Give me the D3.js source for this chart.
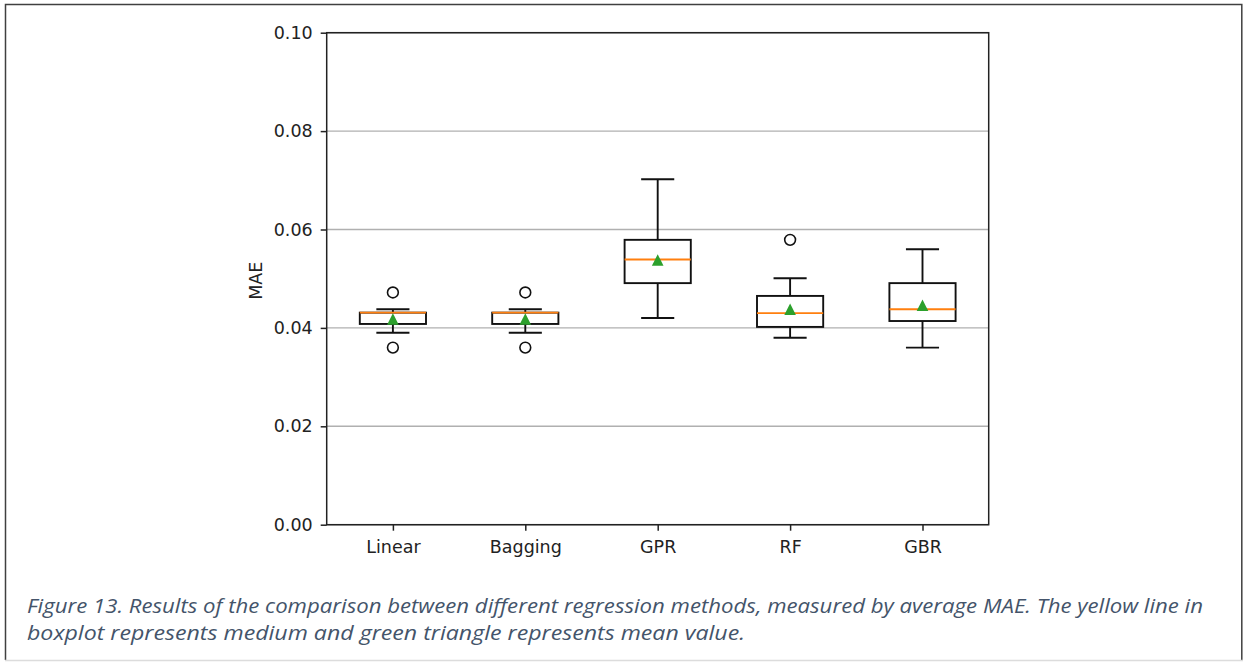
<!DOCTYPE html>
<html>
<head>
<meta charset="utf-8">
<script src="https://cdn.jsdelivr.net/npm/d3@7"></script>
<style>
  html, body { margin: 0; padding: 0; background: #fff; }
  svg { display: block; }
  .axis text { font-family: "DejaVu Sans", sans-serif; font-size: 17.5px; fill: #222; }
  .axis path, .axis line { stroke: #222; stroke-width: 1.5px; }
  .grid line { stroke: #b0b0b0; stroke-width: 1.4px; }
  .caption { font-family: "Open Sans", sans-serif; font-style: italic; font-size: 19.5px; fill: #44546a; }
</style>
</head>
<body>
<svg id="chart"></svg>
<script>
var categories = ['Linear', 'Bagging', 'GPR', 'RF', 'GBR'];
var whiskerLow = [0.0390, 0.0390, 0.0420, 0.0380, 0.0360];
var q1 = [0.0408, 0.0408, 0.0491, 0.0402, 0.0414];
var median = [0.0431, 0.0431, 0.0539, 0.0430, 0.0438];
var q3 = [0.0431, 0.0431, 0.0579, 0.0465, 0.0491];
var whiskerHigh = [0.0438, 0.0438, 0.0702, 0.0501, 0.0560];
var means = [0.0418, 0.0418, 0.0538, 0.0438, 0.0446];
var outliers = [[0.0360, 0.0472], [0.0360, 0.0472], [], [0.0579], []];
var yTicks = [0, 0.02, 0.04, 0.06, 0.08, 0.10];
var captionLines = [
  'Figure 13. Results of the comparison between different regression methods, measured by average MAE. The yellow line in',
  'boxplot represents medium and green triangle represents mean value.'
];

document.addEventListener('DOMContentLoaded', () => {
  var size = { width: 1243, height: 662 };
  var plot = { left: 326.7, right: 988.7, top: 32.7, bottom: 524.7 };

  var data = categories.map((c, i) => ({
    name: c,
    lo: whiskerLow[i],
    q1: q1[i],
    med: median[i],
    q3: q3[i],
    hi: whiskerHigh[i],
    mean: means[i],
    fliers: outliers[i]
  }));

  var x = d3.scalePoint()
    .domain(categories)
    .range([plot.left, plot.right])
    .padding(0.5);

  var y = d3.scaleLinear()
    .domain([0, 0.10])
    .range([plot.bottom, plot.top]);

  var boxW = x.step() * 0.5;
  var capW = x.step() * 0.25;

  var svg = d3.select('#chart')
    .attr('width', size.width)
    .attr('height', size.height);

  // page frame
  svg.append('path')
    .attr('d', `M5.5,660 V4.5 H1241.8 V660`)
    .attr('fill', 'none')
    .attr('stroke', '#404040')
    .attr('stroke-width', 1.5);
  svg.append('line')
    .attr('x1', 5).attr('x2', 1243)
    .attr('y1', 660.5).attr('y2', 660.5)
    .attr('stroke', '#dcdcdc')
    .attr('stroke-width', 1.5);

  // grid
  svg.append('g')
    .attr('class', 'grid')
    .selectAll('line')
    .data(yTicks)
    .enter().append('line')
      .attr('x1', plot.left).attr('x2', plot.right)
      .attr('y1', d => y(d)).attr('y2', d => y(d));

  var box = svg.selectAll('.box')
    .data(data)
    .enter().append('g')
      .attr('class', 'box')
      .attr('fill', 'none')
      .attr('stroke', '#111')
      .attr('stroke-width', 1.9);

  box.append('rect')
    .attr('x', d => x(d.name) - boxW / 2)
    .attr('y', d => y(d.q3))
    .attr('width', boxW)
    .attr('height', d => y(d.q1) - y(d.q3));

  box.append('line')
    .attr('x1', d => x(d.name)).attr('x2', d => x(d.name))
    .attr('y1', d => y(d.q3)).attr('y2', d => y(d.hi));
  box.append('line')
    .attr('x1', d => x(d.name)).attr('x2', d => x(d.name))
    .attr('y1', d => y(d.q1)).attr('y2', d => y(d.lo));

  box.append('line')
    .attr('x1', d => x(d.name) - capW / 2).attr('x2', d => x(d.name) + capW / 2)
    .attr('y1', d => y(d.hi)).attr('y2', d => y(d.hi));
  box.append('line')
    .attr('x1', d => x(d.name) - capW / 2).attr('x2', d => x(d.name) + capW / 2)
    .attr('y1', d => y(d.lo)).attr('y2', d => y(d.lo));

  box.append('line')
    .attr('x1', d => x(d.name) - boxW / 2).attr('x2', d => x(d.name) + boxW / 2)
    .attr('y1', d => y(d.med)).attr('y2', d => y(d.med))
    .attr('stroke', '#ff7f0e');

  box.selectAll('circle')
    .data(d => d.fliers.map(v => ({ name: d.name, v: v })))
    .enter().append('circle')
      .attr('cx', d => x(d.name))
      .attr('cy', d => y(d.v))
      .attr('r', 5.4)
      .attr('stroke-width', 1.6);

  var tri = 5.8;
  box.append('path')
    .attr('d', d => {
      var cx = x(d.name), cy = y(d.mean);
      return `M${cx},${cy - tri} L${cx + tri},${cy + tri} L${cx - tri},${cy + tri} Z`;
    })
    .attr('fill', '#2ca02c')
    .attr('stroke', 'none');

  // spines
  svg.append('rect')
    .attr('x', plot.left).attr('y', plot.top)
    .attr('width', plot.right - plot.left)
    .attr('height', plot.bottom - plot.top)
    .attr('fill', 'none')
    .attr('stroke', '#222')
    .attr('stroke-width', 1.5);

  var xAxis = d3.axisBottom(x)
    .tickSize(6)
    .tickPadding(10)
    .tickSizeOuter(0);

  var yAxis = d3.axisLeft(y)
    .tickValues(yTicks)
    .tickFormat(d3.format('.2f'))
    .tickSize(6)
    .tickPadding(8)
    .tickSizeOuter(0);

  svg.append('g')
    .attr('class', 'axis x')
    .attr('transform', `translate(0, ${ plot.bottom })`)
    .call(xAxis)
    .call(g => g.select('.domain').remove());

  svg.append('g')
    .attr('class', 'axis y')
    .attr('transform', `translate(${ plot.left }, 0)`)
    .call(yAxis)
    .call(g => g.select('.domain').remove());

  svg.append('text')
    .attr('transform', `translate(262, ${ (plot.top + plot.bottom) / 2 + 2 }) rotate(-90)`)
    .attr('text-anchor', 'middle')
    .style('font-family', '"DejaVu Sans", sans-serif')
    .style('font-size', '17.5px')
    .style('fill', '#222')
    .text('MAE');

  var capWidths = [1176, 718];
  svg.selectAll('.caption')
    .data(captionLines)
    .enter().append('text')
      .attr('class', 'caption')
      .attr('x', 27)
      .attr('y', (d, i) => 612.5 + i * 27)
      .attr('textLength', (d, i) => capWidths[i])
      .attr('lengthAdjust', 'spacingAndGlyphs')
      .text(d => d);
});
</script>
</body>
</html>
